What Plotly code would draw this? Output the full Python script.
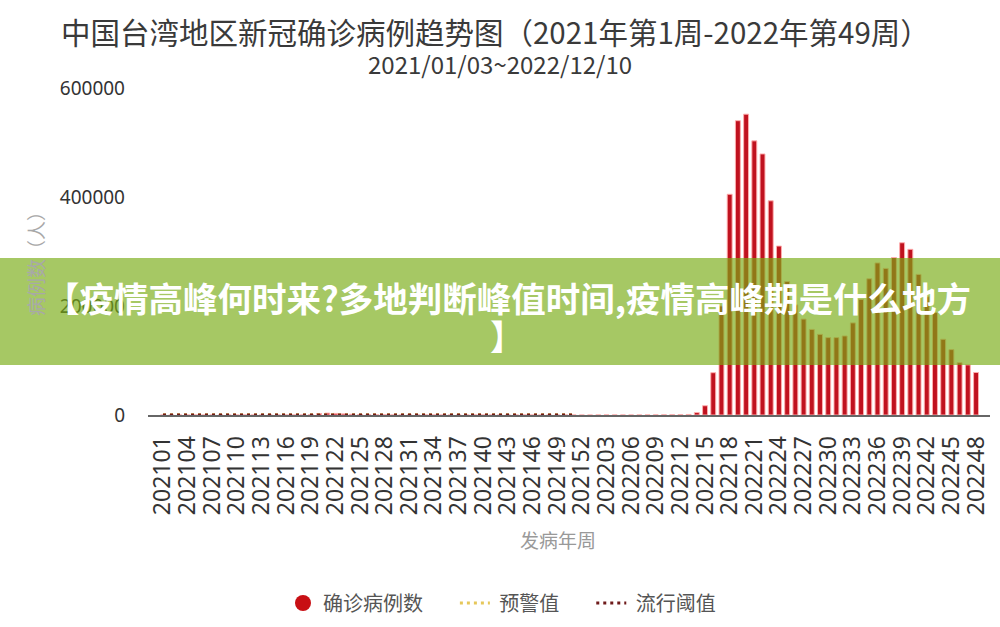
import plotly.graph_objects as go

# ---------------- data ----------------
weeks_2021 = [f"2021{w:02d}" for w in range(1, 53)]
weeks_2022 = [f"2022{w:02d}" for w in range(1, 50)]
weeks = weeks_2021 + weeks_2022

cases_2021 = [
    30, 25, 20, 18, 15, 12, 10, 12, 15, 14, 12, 10, 14, 20, 25, 30, 45, 120,
    600, 2800, 3500, 2900, 2100, 1400, 900, 500, 300, 200, 120, 80, 50, 40,
    35, 30, 28, 25, 22, 20, 20, 18, 18, 16, 15, 15, 14, 14, 16, 18, 20, 25, 30, 40,
]
cases_2022 = [
    60, 120, 150, 110, 90, 80, 100, 150, 200, 300, 400, 600, 1000, 4500,
    17000, 77600, 200000, 405000, 540000, 552000, 503000, 479000, 393000,
    310000, 245000, 202000, 176000, 157000, 148000, 142000, 142000, 145000,
    169000, 212000, 250000, 279000, 269000, 289000, 316000, 304000, 258000,
    217000, 188000, 139000, 120000, 96000, 92000, 78000, None,
]
cases = cases_2021 + cases_2022

line_weeks = weeks_2021[:51]
warning_values = [
    260, 255, 250, 245, 240, 240, 235, 230, 230, 225, 225, 220, 220, 215, 215,
    210, 210, 210, 215, 220, 225, 230, 230, 225, 220, 215, 210, 205, 200, 200,
    195, 195, 190, 190, 190, 195, 200, 205, 210, 215, 220, 225, 230, 235, 240,
    245, 250, 255, 260, 260, 260,
]
threshold_values = [
    130, 128, 125, 122, 120, 120, 118, 115, 115, 112, 112, 110, 110, 108, 108,
    105, 105, 105, 108, 110, 112, 115, 115, 112, 110, 108, 105, 102, 100, 100,
    98, 98, 95, 95, 95, 98, 100, 102, 105, 108, 110, 112, 115, 118, 120,
    122, 125, 128, 130, 130, 130,
]

tick_weeks = weeks[::3]
y_ticks = [0, 200000, 400000, 600000]

title_text = "中国台湾地区新冠确诊病例趋势图（2021年第1周-2022年第49周）"
subtitle_text = "2021/01/03~2022/12/10"
banner_line1 = "【疫情高峰何时来?多地判断峰值时间,疫情高峰期是什么地方"
banner_line2 = "】"

CJK = "Noto Sans CJK SC"
NB = "\u00a0"

# ---------------- figure ----------------
fig = go.Figure()

fig.add_trace(go.Bar(
    x=weeks, y=cases, name="确诊病例数", showlegend=False,
    marker=dict(color="#c0121f", line=dict(color="rgba(255,175,175,0.95)", width=1)),
))
fig.add_trace(go.Scatter(
    x=[None], y=[None], mode="markers", name="确诊病例数" + NB * 6,
    marker=dict(symbol="circle", size=20, color="#c80f14"),
))
fig.add_trace(go.Scatter(
    x=line_weeks, y=warning_values, mode="lines", name=NB + "预警值" + NB * 6,
    line=dict(color="#e6c75a", width=3, dash="3px,4px"),
))
fig.add_trace(go.Scatter(
    x=line_weeks, y=threshold_values, mode="lines", name=NB + "流行阈值",
    line=dict(color="#6e1a1a", width=3, dash="3px,4px"),
))

L, R, T, B = 148, 10, 88, 212
W, H = 1000, 627
pw, ph = W - L - R, H - T - B


def px_x(x):
    return (x - L) / pw


def px_y(y):
    return (H - B - y) / ph


fig.update_layout(
    width=W, height=H,
    margin=dict(l=L, r=R, t=T, b=B),
    paper_bgcolor="white", plot_bgcolor="white",
    bargap=0.4,
    font=dict(family=CJK, color="#333"),
    showlegend=True,
    legend=dict(
        orientation="h", xref="container", yref="container",
        x=0.283, xanchor="left", y=1 - 603 / H, yanchor="middle",
        font=dict(family=CJK, size=20, color="#555"),
        bgcolor="rgba(0,0,0,0)",
    ),
    xaxis=dict(
        type="category", range=[-1.83, 100.7],
        tickmode="array", tickvals=tick_weeks, ticktext=tick_weeks,
        tickangle=-90, tickfont=dict(family="Noto Sans", size=23, color="#333"),
        ticklabelstandoff=10,
        showgrid=False, zeroline=False,
        showline=True, linecolor="#666", linewidth=2,
    ),
    yaxis=dict(
        range=[0, 600000], tickmode="array", tickvals=y_ticks,
        tickformat="d", tickfont=dict(family="Noto Sans", size=19, color="#333"),
        ticklabelstandoff=22,
        showgrid=False, zeroline=False, showline=False,
    ),
)

annotations = [
    dict(text=title_text, x=px_x(495), y=px_y(31), font=dict(size=29.5, color="#3a3a3a", family=CJK)),
    dict(text=subtitle_text, x=px_x(500), y=px_y(63), font=dict(size=24, color="#3a3a3a", family=CJK)),
    dict(text="病例数（人）", x=px_x(35), y=px_y(259), textangle=-90,
         font=dict(size=19, color="#a8a8a8", family=CJK)),
    dict(text="发病年周", x=px_x(558), y=px_y(539), font=dict(size=19, color="#999", family=CJK)),
    dict(text="<b>" + banner_line1 + "</b>", x=px_x(508), y=px_y(297),
         font=dict(size=34.5, color="white", family=CJK)),
    dict(text="<b>" + banner_line2 + "</b>", x=px_x(507), y=px_y(335),
         font=dict(size=34.5, color="white", family=CJK)),
]
for a in annotations:
    a.update(xref="paper", yref="paper", showarrow=False, xanchor="center", yanchor="middle")
fig.update_layout(annotations=annotations)

fig.add_shape(
    type="rect", xref="paper", yref="paper",
    x0=px_x(0), x1=px_x(1000), y0=px_y(365), y1=px_y(258),
    fillcolor="rgba(120,172,20,0.66)", line=dict(width=0), layer="above",
)

fig.write_html("out.html")
